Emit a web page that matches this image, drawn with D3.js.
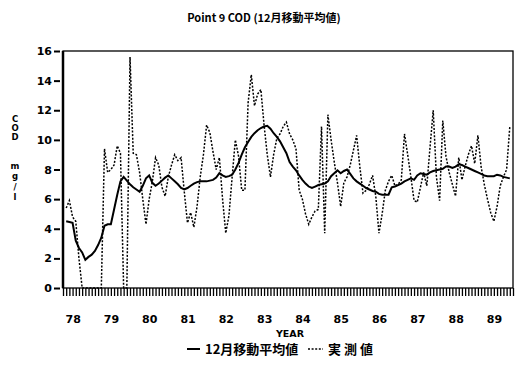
<!DOCTYPE html>
<html>
<head>
<meta charset="utf-8">
<script src="https://cdn.jsdelivr.net/npm/d3@7"></script>
<style>
  body { margin: 0; background: #fff; color: #000; }
  svg { display: block; }
  text { fill: #000; }
</style>
</head>
<body>
<svg id="chart" width="516" height="365"></svg>
<script>
// month index 1 = first plotted month (1978)
const yearLabels = ['78', '79', '80', '81', '82', '83', '84', '85', '86', '87', '88', '89']
const yTicks = [0, 2, 4, 6, 8, 10, 12, 14, 16]

// 実測値 (monthly measured COD, mg/l)
const measured = [
  5.4, 5.9, 4.8, 4.5, 2.0, 0, 0, 0, 0, 0, 0, 0,
  9.4, 7.8, 8.0, 8.3, 9.6, 9.1, 0, 0, 15.6, 9.1, 9.0, 7.8,
  6.0, 4.3, 6.0, 7.2, 8.8, 8.3, 6.8, 6.2, 7.5, 8.3, 9.0, 8.6,
  8.8, 6.5, 4.4, 5.1, 4.1, 5.5, 7.5, 9.0, 11.0, 10.5, 9.2, 8.0,
  8.8, 6.0, 3.7, 4.9, 7.5, 10.0, 8.9, 6.6, 6.6, 12.5, 14.4, 12.3,
  13.1, 13.4, 11.0, 9.0, 7.5, 9.0, 10.1, 10.4, 10.9, 11.2, 10.4, 10.0,
  9.4, 6.6, 6.0, 5.0, 4.3, 4.8, 5.2, 5.3, 10.9, 3.7, 11.7, 10.0,
  8.5, 7.1, 5.5, 7.1, 7.5, 8.3, 9.3, 10.3, 8.2, 6.4, 6.6, 7.0,
  7.6, 6.2, 3.7, 5.0, 6.6, 7.2, 7.6, 6.9, 7.0, 7.3, 10.4, 9.0,
  7.5, 5.9, 5.8, 6.8, 7.8, 6.9, 9.5, 12.0, 7.5, 5.9, 11.3, 8.9,
  7.8, 7.0, 6.2, 8.8, 7.3, 8.2, 9.0, 9.6, 8.4, 10.3, 8.2, 7.0,
  6.0, 5.1, 4.5, 5.5, 6.9, 7.5, 8.0, 10.9
]

// 12月移動平均値
const movingAvg = [
  4.5, 4.45, 4.4, 3.2, 2.7, 2.4, 1.9, 2.1, 2.25, 2.5, 2.9, 3.4,
  4.2, 4.3, 4.3, 5.3, 6.3, 7.2, 7.5, 7.25, 7.0, 6.8, 6.65, 6.5,
  6.9, 7.4, 7.6, 7.1, 6.9, 7.05, 7.25, 7.45, 7.6, 7.4, 7.2, 7.0,
  6.75, 6.65, 6.75, 6.9, 7.05, 7.15, 7.2, 7.2, 7.2, 7.25, 7.3, 7.45,
  7.75, 7.6, 7.5, 7.55, 7.65, 8.0, 8.45, 9.0, 9.5, 9.85, 10.2, 10.45,
  10.65, 10.8, 10.9, 10.95, 10.75, 10.45, 10.2, 9.9, 9.5, 9.1, 8.5, 8.2,
  7.95, 7.6, 7.3, 7.05, 6.85, 6.75, 6.85, 6.95, 7.0, 7.05, 7.2, 7.55,
  7.75, 7.95, 7.75, 7.9, 8.0, 7.7, 7.4, 7.2, 7.05, 6.9, 6.75, 6.65,
  6.55, 6.5, 6.35, 6.3, 6.3, 6.3, 6.8, 6.85, 6.95, 7.05, 7.2, 7.3,
  7.4, 7.3, 7.6, 7.75, 7.7, 7.65, 7.8, 7.9, 7.95, 8.0, 8.05, 8.2,
  8.2, 8.1, 8.2, 8.35, 8.3, 8.2, 8.1, 8.0, 7.9, 7.8, 7.7, 7.6,
  7.55, 7.55, 7.55, 7.65, 7.6, 7.5, 7.45, 7.4
]

const margin = { top: 51, right: 3, bottom: 77, left: 63 }
const W = 516
const H = 365
const width = W - margin.left - margin.right
const height = H - margin.top - margin.bottom
const nMonths = 141

const x = d3.scaleLinear().domain([0, nMonths]).range([0, width])
const y = d3.scaleLinear().domain([0, 16]).range([height, 0])

const svg = d3.select('#chart')
const font = '"DejaVu Sans", sans-serif'
const cjk = '"Noto Sans CJK JP", sans-serif'

// title
svg.append('text')
  .attr('x', 264)
  .attr('y', 22)
  .attr('text-anchor', 'middle')
  .style('font-family', cjk)
  .style('font-size', '11px')
  .style('font-weight', 'bold')
  .text('Point 9 COD (12月移動平均値)')

const g = svg.append('g').attr('transform', `translate(${margin.left},${margin.top})`)

// y axis: labels with short dashes
g.append('g')
  .call(d3.axisLeft(y).tickValues(yTicks).tickSize(6).tickPadding(5))
  .call((a) => a.select('.domain').remove())
  .call((a) => a.selectAll('.tick line')
    .attr('x1', -3).attr('x2', -9)
    .style('stroke', '#000').style('stroke-width', '2px'))
  .call((a) => a.selectAll('.tick text')
    .style('font-family', font).style('font-size', '11px').style('font-weight', 'bold'))

// monthly ticks along bottom
g.append('g')
  .attr('transform', `translate(0,${height})`)
  .call(d3.axisBottom(x).tickValues(d3.range(0, nMonths + 1)).tickSize(8).tickFormat(() => ''))
  .call((a) => a.select('.domain').remove())
  .call((a) => a.selectAll('.tick line').style('stroke', '#000').style('stroke-width', '1.3px'))

// year labels
g.append('g')
  .attr('transform', `translate(0,${height + 24})`)
  .call(d3.axisBottom(x)
    .tickValues(yearLabels.map((d, i) => i * 12))
    .tickFormat((d, i) => yearLabels[i])
    .tickSize(0))
  .call((a) => a.select('.domain').remove())
  .call((a) => a.selectAll('.tick text')
    .attr('text-anchor', 'start').attr('dx', 2)
    .style('font-family', font).style('font-size', '11px').style('font-weight', 'bold'))

// frame
g.append('rect')
  .attr('x', 0).attr('y', 0)
  .attr('width', width).attr('height', height)
  .attr('fill', 'none').attr('stroke', '#000').attr('stroke-width', 1.3)
g.append('line')
  .attr('x1', 0).attr('x2', 0).attr('y1', 0).attr('y2', height)
  .attr('stroke', '#000').attr('stroke-width', 2.5)

// lines
const lineGen = d3.line()
  .x((d, i) => x(i + 1))
  .y((d) => y(d))

g.append('path')
  .datum(measured)
  .attr('fill', 'none')
  .attr('stroke', '#000')
  .attr('stroke-width', 1.5)
  .attr('stroke-dasharray', '2,1.6')
  .attr('d', lineGen)

g.append('path')
  .datum(movingAvg)
  .attr('fill', 'none')
  .attr('stroke', '#000')
  .attr('stroke-width', 2)
  .attr('d', lineGen)

// axis titles
svg.append('text')
  .attr('x', 290).attr('y', 337)
  .attr('text-anchor', 'middle')
  .style('font-family', font).style('font-size', '9.5px').style('font-weight', 'bold')
  .text('YEAR')

const yLabel = ['C', 'O', 'D', '', 'm', 'g', '/', 'l']
const yLabelPos = [119, 128, 137, 0, 166, 176, 187, 197]
svg.append('g').selectAll('text')
  .data(yLabel)
  .join('text')
  .attr('x', 15)
  .attr('y', (d, i) => yLabelPos[i] + 3)
  .attr('text-anchor', 'middle')
  .style('font-family', font).style('font-size', '8.5px').style('font-weight', 'bold')
  .text((d) => d)

// legend
const leg = svg.append('g')
leg.append('line').attr('x1', 187).attr('x2', 200).attr('y1', 349).attr('y2', 349)
  .attr('stroke', '#000').attr('stroke-width', 2)
leg.append('text').attr('x', 205).attr('y', 354)
  .style('font-family', cjk).style('font-size', '13px').style('font-weight', 'bold')
  .text('12月移動平均値')
leg.append('line').attr('x1', 308).attr('x2', 323).attr('y1', 349).attr('y2', 349)
  .attr('stroke', '#000').attr('stroke-width', 1.5).attr('stroke-dasharray', '2,1.6')
leg.append('text').attr('x', 328).attr('y', 354)
  .style('font-family', cjk).style('font-size', '13px').style('font-weight', 'bold')
  .style('letter-spacing', '3px')
  .text('実測値')
</script>
</body>
</html>
